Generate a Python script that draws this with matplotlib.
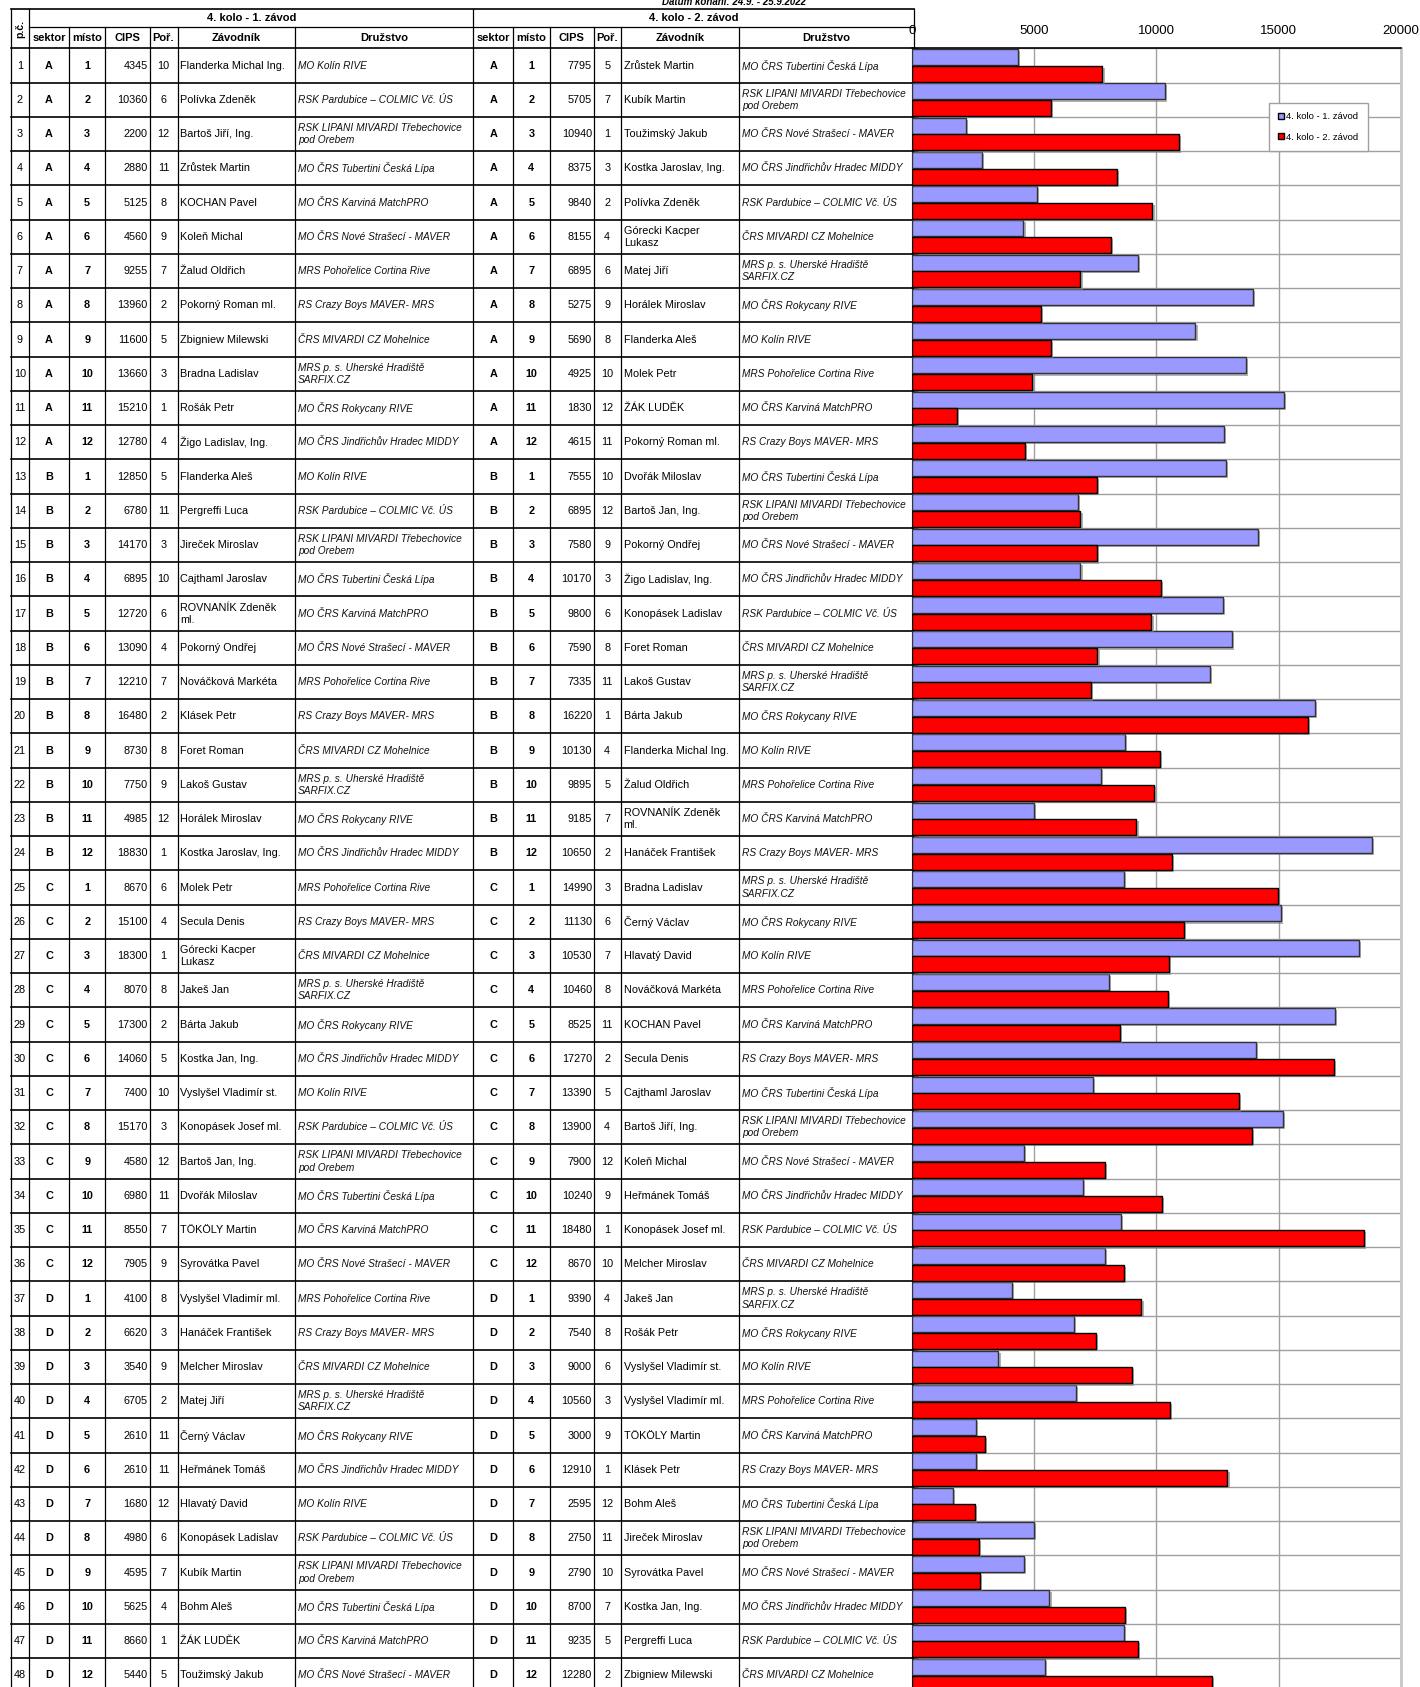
import matplotlib
matplotlib.use('Agg')
import matplotlib.pyplot as plt
import matplotlib.patheffects as pe
from matplotlib.patches import Patch
import numpy as np

plt.rcParams['font.family'] = ['Liberation Sans', 'DejaVu Sans']

# ---------------- data ----------------
MOK = "MO Kolín RIVE"
TUB = "MO ČRS Tubertini Česká Lípa"
PAR = "RSK Pardubice – COLMIC Vč. ÚS"
LIP = "RSK LIPANI MIVARDI Třebechovice\npod Orebem"
NOS = "MO ČRS Nové Strašecí - MAVER"
JH = "MO ČRS Jindřichův Hradec MIDDY"
KAR = "MO ČRS Karviná MatchPRO"
MOH = "ČRS MIVARDI CZ Mohelnice"
POH = "MRS Pohořelice Cortina Rive"
UH = "MRS p. s. Uherské Hradiště\nSARFIX.CZ"
CRZ = "RS Crazy Boys MAVER- MRS"
ROK = "MO ČRS Rokycany RIVE"

sektor = list("AAAAAAAAAAAA" "BBBBBBBBBBBB" "CCCCCCCCCCCC" "DDDDDDDDDDDD")
misto = [1, 2, 3, 4, 5, 6, 7, 8, 9, 10, 11, 12] * 4

cips1 = [4345, 10360, 2200, 2880, 5125, 4560, 9255, 13960, 11600, 13660, 15210, 12780,
         12850, 6780, 14170, 6895, 12720, 13090, 12210, 16480, 8730, 7750, 4985, 18830,
         8670, 15100, 18300, 8070, 17300, 14060, 7400, 15170, 4580, 6980, 8550, 7905,
         4100, 6620, 3540, 6705, 2610, 2610, 1680, 4980, 4595, 5625, 8660, 5440]
por1 = [10, 6, 12, 11, 8, 9, 7, 2, 5, 3, 1, 4,
        5, 11, 3, 10, 6, 4, 7, 2, 8, 9, 12, 1,
        6, 4, 1, 8, 2, 5, 10, 3, 12, 11, 7, 9,
        8, 3, 9, 2, 11, 11, 12, 6, 7, 4, 1, 5]
name1 = ["Flanderka Michal Ing.", "Polívka Zdeněk", "Bartoš Jiří, Ing.", "Zrůstek Martin",
         "KOCHAN Pavel", "Koleň Michal", "Žalud Oldřich", "Pokorný Roman ml.",
         "Zbigniew Milewski", "Bradna Ladislav", "Rošák Petr", "Žigo Ladislav, Ing.",
         "Flanderka Aleš", "Pergreffi Luca", "Jireček Miroslav", "Cajthaml Jaroslav",
         "ROVNANÍK Zdeněk\nml.", "Pokorný Ondřej", "Nováčková Markéta", "Klásek Petr",
         "Foret Roman", "Lakoš Gustav", "Horálek Miroslav", "Kostka Jaroslav, Ing.",
         "Molek Petr", "Secula Denis", "Górecki Kacper\nLukasz", "Jakeš Jan",
         "Bárta Jakub", "Kostka Jan, Ing.", "Vyslyšel Vladimír st.", "Konopásek Josef ml.",
         "Bartoš Jan, Ing.", "Dvořák Miloslav", "TÖKÖLY Martin", "Syrovátka Pavel",
         "Vyslyšel Vladimír ml.", "Hanáček František", "Melcher Miroslav", "Matej Jiří",
         "Černý Václav", "Heřmánek Tomáš", "Hlavatý David", "Konopásek Ladislav",
         "Kubík Martin", "Bohm Aleš", "ŽÁK LUDĚK", "Toužimský Jakub"]
team1 = [MOK, PAR, LIP, TUB, KAR, NOS, POH, CRZ, MOH, UH, ROK, JH,
         MOK, PAR, LIP, TUB, KAR, NOS, POH, CRZ, MOH, UH, ROK, JH,
         POH, CRZ, MOH, UH, ROK, JH, MOK, PAR, LIP, TUB, KAR, NOS,
         POH, CRZ, MOH, UH, ROK, JH, MOK, PAR, LIP, TUB, KAR, NOS]

cips2 = [7795, 5705, 10940, 8375, 9840, 8155, 6895, 5275, 5690, 4925, 1830, 4615,
         7555, 6895, 7580, 10170, 9800, 7590, 7335, 16220, 10130, 9895, 9185, 10650,
         14990, 11130, 10530, 10460, 8525, 17270, 13390, 13900, 7900, 10240, 18480, 8670,
         9390, 7540, 9000, 10560, 3000, 12910, 2595, 2750, 2790, 8700, 9235, 12280]
por2 = [5, 7, 1, 3, 2, 4, 6, 9, 8, 10, 12, 11,
        10, 12, 9, 3, 6, 8, 11, 1, 4, 5, 7, 2,
        3, 6, 7, 8, 11, 2, 5, 4, 12, 9, 1, 10,
        4, 8, 6, 3, 9, 1, 12, 11, 10, 7, 5, 2]
name2 = ["Zrůstek Martin", "Kubík Martin", "Toužimský Jakub", "Kostka Jaroslav, Ing.",
         "Polívka Zdeněk", "Górecki Kacper\nLukasz", "Matej Jiří", "Horálek Miroslav",
         "Flanderka Aleš", "Molek Petr", "ŽÁK LUDĚK", "Pokorný Roman ml.",
         "Dvořák Miloslav", "Bartoš Jan, Ing.", "Pokorný Ondřej", "Žigo Ladislav, Ing.",
         "Konopásek Ladislav", "Foret Roman", "Lakoš Gustav", "Bárta Jakub",
         "Flanderka Michal Ing.", "Žalud Oldřich", "ROVNANÍK Zdeněk\nml.", "Hanáček František",
         "Bradna Ladislav", "Černý Václav", "Hlavatý David", "Nováčková Markéta",
         "KOCHAN Pavel", "Secula Denis", "Cajthaml Jaroslav", "Bartoš Jiří, Ing.",
         "Koleň Michal", "Heřmánek Tomáš", "Konopásek Josef ml.", "Melcher Miroslav",
         "Jakeš Jan", "Rošák Petr", "Vyslyšel Vladimír st.", "Vyslyšel Vladimír ml.",
         "TÖKÖLY Martin", "Klásek Petr", "Bohm Aleš", "Jireček Miroslav",
         "Syrovátka Pavel", "Kostka Jan, Ing.", "Pergreffi Luca", "Zbigniew Milewski"]
team2 = [TUB, LIP, NOS, JH, PAR, MOH, UH, ROK, MOK, POH, KAR, CRZ,
         TUB, LIP, NOS, JH, PAR, MOH, UH, ROK, MOK, POH, KAR, CRZ,
         UH, ROK, MOK, POH, KAR, CRZ, TUB, LIP, NOS, JH, PAR, MOH,
         UH, ROK, MOK, POH, KAR, CRZ, TUB, LIP, NOS, JH, PAR, MOH]

series_labels = ["4. kolo - 1. závod", "4. kolo - 2. závod"]
col_headers = ["sektor", "místo", "CIPS", "Poř.", "Závodník", "Družstvo"]
x_ticks = [0, 5000, 10000, 15000, 20000]
date_text = "Datum konání: 24.9. - 25.9.2022"

# ---------------- layout ----------------
W, H = 1420, 1687
fig = plt.figure(figsize=(W / 100, H / 100), dpi=100)
fig.patch.set_facecolor('white')

tab = fig.add_axes([0, 0, 1, 1])
tab.set_xlim(0, W)
tab.set_ylim(H, 0)
tab.axis('off')

y0 = 48.4
rh = 34.25
n = len(cips1)
cols = [10.8, 29, 68.9, 105.4, 149.5, 177.5, 294.8, 473.4, 513, 549.7, 593.8, 620.7, 739, 914]
ybot = y0 + n * rh
htop, hmid = 9, 27

lc = 'black'
tab.plot([cols[0], cols[-1]], [htop, htop], color=lc, lw=1.2)
tab.plot([cols[1], cols[-1]], [hmid, hmid], color=lc, lw=0.9)
for i in range(n + 1):
    yy = y0 + i * rh
    tab.plot([cols[0], cols[-1]], [yy, yy], color=lc, lw=1.2)
for k, cx in enumerate(cols):
    top = htop if k in (0, 1, 7, 13) else hmid
    tab.plot([cx, cx], [top, ybot], color=lc, lw=0.9)

fs = 7.8
tfs = 7.25
tab.text(806, 2, date_text, ha='right', va='center', fontsize=7,
         fontweight='bold', style='italic')
tab.text((cols[0] + cols[1]) / 2, 28.5, "p.č.", rotation=90, ha='center', va='center',
         fontsize=7.5, fontweight='bold')
tab.text((cols[1] + cols[7]) / 2, 18, series_labels[0], ha='center', va='center',
         fontsize=8, fontweight='bold')
tab.text((cols[7] + cols[13]) / 2, 18, series_labels[1], ha='center', va='center',
         fontsize=8, fontweight='bold')
for g in (1, 7):
    for j, lab in enumerate(col_headers):
        cx = (cols[g + j] + cols[g + j + 1]) / 2
        tab.text(cx, 38, lab, ha='center', va='center', fontsize=8, fontweight='bold')

for i in range(n):
    yc = y0 + (i + 0.5) * rh
    tab.text((cols[0] + cols[1]) / 2, yc, str(i + 1), ha='center', va='center', fontsize=fs)
    for g, (cp, pr, nm, tm) in zip((1, 7), ((cips1, por1, name1, team1), (cips2, por2, name2, team2))):
        tab.text((cols[g] + cols[g + 1]) / 2, yc, sektor[i], ha='center', va='center',
                 fontsize=fs, fontweight='bold')
        tab.text((cols[g + 1] + cols[g + 2]) / 2, yc, str(misto[i]), ha='center', va='center',
                 fontsize=fs, fontweight='bold')
        tab.text(cols[g + 3] - 2, yc, str(cp[i]), ha='right', va='center', fontsize=fs)
        tab.text((cols[g + 3] + cols[g + 4]) / 2, yc, str(pr[i]), ha='center', va='center',
                 fontsize=fs)
        tab.text(cols[g + 4] + 3, yc, nm[i], ha='left', va='center', fontsize=fs,
                 linespacing=1.25)
        tab.text(cols[g + 5] + 3, yc, tm[i], ha='left', va='center', fontsize=tfs,
                 style='italic', linespacing=1.3, color='#111111')

# ---------------- bar chart ----------------
x0px, x1px = 912, 1400.7
ax = fig.add_axes([x0px / W, 1 - ybot / H, (x1px - x0px) / W, n * rh / H])
ax.set_facecolor('white')
y = np.arange(n)
shadow = [pe.SimplePatchShadow(offset=(1.5, -1.5), shadow_rgbFace='#808080', alpha=0.6), pe.Normal()]
ax.barh(y - 0.245, cips1, height=0.47, color='#9999FF', edgecolor='#333333', linewidth=1,
        path_effects=shadow, zorder=3, label=series_labels[0])
ax.barh(y + 0.245, cips2, height=0.47, color='#FF0000', edgecolor='black', linewidth=1,
        path_effects=shadow, zorder=3, label=series_labels[1])
ax.set_xlim(x_ticks[0], x_ticks[-1])
ax.set_ylim(n - 0.5, -0.5)
ax.xaxis.tick_top()
ax.set_xticks(x_ticks)
ax.set_xticklabels([str(t) for t in x_ticks], fontsize=9.5)
ax.tick_params(axis='x', length=0, pad=8)
ax.set_yticks(np.arange(-0.5, n, 1))
ax.set_yticklabels([])
ax.tick_params(axis='y', direction='in', length=4, width=1, color='black')
ax.set_axisbelow(True)
ax.grid(True, color='#A0A0A0', lw=1)
ax.spines['top'].set_color('black')
ax.spines['top'].set_linewidth(1.2)
ax.spines['left'].set_color('black')
ax.spines['right'].set_color('#C8C8C8')
ax.spines['right'].set_linewidth(2)
ax.spines['bottom'].set_visible(False)

handles = [Patch(facecolor='#9999FF', edgecolor='black', label=series_labels[0]),
           Patch(facecolor='#FF0000', edgecolor='black', label=series_labels[1])]
fig.legend(handles=handles, loc='upper left', bbox_to_anchor=(1269 / W, 1 - 103 / H),
           fontsize=6.8, frameon=True, fancybox=False, edgecolor='#A0A0A0', framealpha=1,
           handlelength=0.6, handleheight=0.6, handletextpad=0.2, labelspacing=1.2,
           borderpad=1.0, borderaxespad=0)

fig.savefig('out.png', dpi=100, facecolor='white')
